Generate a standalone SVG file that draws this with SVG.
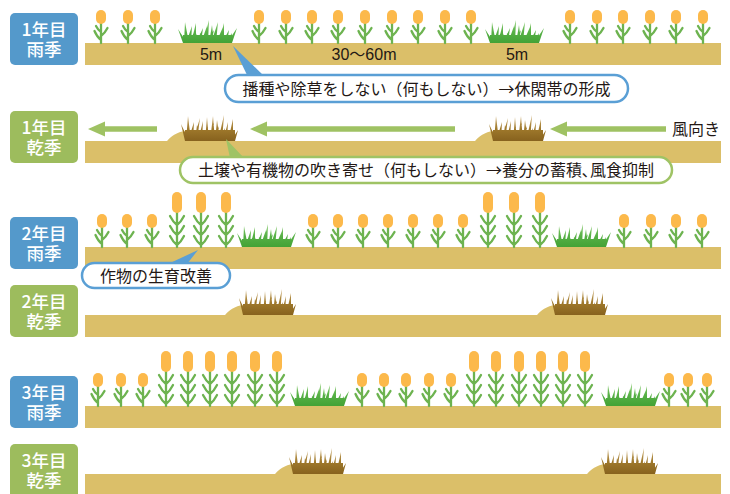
<svg xmlns="http://www.w3.org/2000/svg" xmlns:xlink="http://www.w3.org/1999/xlink" width="730" height="494" viewBox="0 0 730 494">
  <style>
    .ground { fill: #dbbf69; }
    .tag-wet { fill: #5499cb; }
    .tag-dry { fill: #9dbc5d; }
    .tag-text { font-family: "Noto Sans CJK JP", sans-serif; font-size: 17.5px; fill: #ffffff; text-anchor: middle; font-weight: 500; }
    .note { font-family: "Noto Sans CJK JP", sans-serif; font-size: 16px; fill: #231815; }
    .dist { font-family: "Liberation Sans", "Noto Sans CJK JP", sans-serif; font-size: 16px; fill: #231815; text-anchor: middle; }
    .pill-blue { fill: #ffffff; stroke: #5a9fd5; stroke-width: 2.5; }
    .pill-green { fill: #ffffff; stroke: #9fc365; stroke-width: 2.5; }
    .stem { stroke: #6db350; stroke-width: 2.3; fill: none; stroke-linecap: round; }
    .head { fill: #fcb94b; }
    .wind { stroke: #9fc263; stroke-width: 5.5; }
    .wind-head { fill: #9fc263; }
  </style>
  <defs>
    <linearGradient id="greenBlade" gradientUnits="userSpaceOnUse" x1="0" y1="0" x2="0" y2="-24">
      <stop offset="0" stop-color="#43a236"/>
      <stop offset="0.45" stop-color="#56b045"/>
      <stop offset="1" stop-color="#8fcf74"/>
    </linearGradient>
    <linearGradient id="dryBlade" gradientUnits="userSpaceOnUse" x1="0" y1="0" x2="0" y2="-26">
      <stop offset="0" stop-color="#87621e"/>
      <stop offset="0.45" stop-color="#9e782b"/>
      <stop offset="1" stop-color="#c9a868"/>
    </linearGradient>
    <!-- short crop, origin = stem foot on the ground -->
    <g id="cropS">
      <path class="stem" d="M0,0 V-20 M0,-3 Q-4,-6 -6.5,-12 M0,-7 Q4,-10 6.5,-15 M0,-11 Q-3,-13 -5,-17"/>
      <rect class="head" x="-5" y="-33" width="10" height="14" rx="5"/>
    </g>
    <!-- tall crop -->
    <g id="cropT">
      <path class="stem" d="M0,0 V-36 M0,-2 Q-4,-5 -7,-11 M0,-2 Q4,-5 7,-11 M0,-12 Q-4,-15 -7,-21 M0,-12 Q4,-15 7,-21 M0,-22 Q-4,-25 -7,-31 M0,-22 Q4,-25 7,-31"/>
      <rect class="head" x="-5" y="-55" width="10" height="21" rx="5"/>
    </g>
    <!-- green weed clump, origin = left foot -->
    <path id="weeds" fill="url(#greenBlade)" d="M0,0 L-5,-14 L4,0Z M1,0 L2,-21 L6,0Z M3,0 L9,-17 L8,0Z M6,0 L11,-11 L11,0Z M8,0 L13,-20 L13,0Z M11,0 L12,-13 L16,0Z M13,0 L20,-15 L18,0Z M16,0 L17,-10 L21,0Z M18,0 L24,-17 L23,0Z M20,0 L26,-23 L25,0Z M23,0 L31,-13 L28,0Z M26,0 L29,-18 L31,0Z M28,0 L35,-21 L33,0Z M31,0 L33,-12 L36,0Z M33,0 L40,-16 L38,0Z M36,0 L41,-20 L41,0Z M39,0 L46,-13 L44,0Z M42,0 L49,-10 L47,0Z M44,0 L54,-15 L49,0Z M0,0 L0,-8 L49,-8 L49,0Z"/>
    <!-- withered clump on a small drift of soil -->
    <g id="drift">
      <path class="ground" d="M-18,0 C-12,-7 -5,-10 3,-10 L45,-10 L45,0 Z"/>
      <path fill="url(#dryBlade)" d="M0,0 L-4,-17 L4,0Z M1,0 L3,-25 L6,0Z M3,0 L9,-19 L8,0Z M6,0 L7,-13 L10,0Z M8,0 L15,-23 L12,0Z M10,0 L12,-16 L15,0Z M13,0 L18,-20 L17,0Z M15,0 L16,-11 L20,0Z M18,0 L23,-14 L22,0Z M20,0 L22,-24 L24,0Z M22,0 L29,-18 L27,0Z M25,0 L28,-25 L30,0Z M28,0 L34,-15 L32,0Z M30,0 L32,-21 L35,0Z M33,0 L39,-26 L37,0Z M35,0 L40,-13 L40,0Z M38,0 L43,-19 L42,0Z M41,0 L47,-15 L45,0Z M43,0 L48,-22 L48,0Z M46,0 L53,-11 L50,0Z M0,0 L0,-11 L50,-11 L50,0Z"/>
    </g>
  </defs>

  <rect width="730" height="494" fill="#ffffff"/>

  <!-- Year 1, rainy season -->
  <g id="y1-wet">
    <rect class="tag-wet" x="10" y="13" width="68" height="52" rx="5"/>
    <text class="tag-text"><tspan x="44" y="35.5">1年目</tspan><tspan x="44" y="55.5">雨季</tspan></text>
    <rect class="ground" x="85" y="43" width="636" height="22"/>
    <use href="#cropS" x="101" y="43"/><use href="#cropS" x="128" y="43"/><use href="#cropS" x="155" y="43"/>
    <use href="#weeds" x="183" y="43"/>
    <use href="#cropS" x="259" y="43"/><use href="#cropS" x="286" y="43"/><use href="#cropS" x="312" y="43"/>
    <use href="#cropS" x="338" y="43"/><use href="#cropS" x="365" y="43"/><use href="#cropS" x="392" y="43"/>
    <use href="#cropS" x="418" y="43"/><use href="#cropS" x="445" y="43"/><use href="#cropS" x="471" y="43"/>
    <use href="#weeds" x="490" y="43"/>
    <use href="#cropS" x="570" y="43"/><use href="#cropS" x="597" y="43"/><use href="#cropS" x="623" y="43"/>
    <use href="#cropS" x="650" y="43"/><use href="#cropS" x="676" y="43"/><use href="#cropS" x="703" y="43"/>
    <text class="dist" x="211" y="60">5m</text>
    <text class="dist" x="364" y="60">30〜60m</text>
    <text class="dist" x="517" y="60">5m</text>
  </g>

  <!-- Year 1, dry season -->
  <g id="y1-dry">
    <rect class="tag-dry" x="10" y="111" width="68" height="52" rx="5"/>
    <text class="tag-text"><tspan x="44" y="133.5">1年目</tspan><tspan x="44" y="153.5">乾季</tspan></text>
    <rect class="ground" x="85" y="141" width="636" height="22"/>
    <use href="#drift" x="185" y="141"/>
    <use href="#drift" x="493" y="141"/>
    <text class="note" x="672" y="135">風向き</text>
  </g>

  <!-- Year 2, rainy season -->
  <g id="y2-wet">
    <rect class="tag-wet" x="10" y="217" width="68" height="52" rx="5"/>
    <text class="tag-text"><tspan x="44" y="239.5">2年目</tspan><tspan x="44" y="259.5">雨季</tspan></text>
    <rect class="ground" x="85" y="247" width="636" height="22"/>
    <use href="#cropS" x="102" y="247"/><use href="#cropS" x="127" y="247"/><use href="#cropS" x="152" y="247"/>
    <use href="#cropT" x="177" y="247"/><use href="#cropT" x="201" y="247"/><use href="#cropT" x="226" y="247"/>
    <use href="#weeds" x="242" y="247"/>
    <use href="#cropS" x="313" y="247"/><use href="#cropS" x="338" y="247"/><use href="#cropS" x="363" y="247"/>
    <use href="#cropS" x="388" y="247"/><use href="#cropS" x="413" y="247"/><use href="#cropS" x="438" y="247"/>
    <use href="#cropS" x="463" y="247"/>
    <use href="#cropT" x="488" y="247"/><use href="#cropT" x="514" y="247"/><use href="#cropT" x="540" y="247"/>
    <use href="#weeds" x="557" y="247"/>
    <use href="#cropS" x="624" y="247"/><use href="#cropS" x="651" y="247"/><use href="#cropS" x="676" y="247"/>
    <use href="#cropS" x="702" y="247"/>
  </g>

  <!-- Year 2, dry season -->
  <g id="y2-dry">
    <rect class="tag-dry" x="10" y="285" width="68" height="52" rx="5"/>
    <text class="tag-text"><tspan x="44" y="307.5">2年目</tspan><tspan x="44" y="327.5">乾季</tspan></text>
    <rect class="ground" x="85" y="315" width="636" height="22"/>
    <use href="#drift" x="243" y="315"/>
    <use href="#drift" x="555" y="315"/>
  </g>

  <!-- Year 3, rainy season -->
  <g id="y3-wet">
    <rect class="tag-wet" x="10" y="376" width="68" height="52" rx="5"/>
    <text class="tag-text"><tspan x="44" y="398.5">3年目</tspan><tspan x="44" y="418.5">雨季</tspan></text>
    <rect class="ground" x="85" y="406" width="636" height="22"/>
    <use href="#cropS" x="98" y="406"/><use href="#cropS" x="121" y="406"/><use href="#cropS" x="143" y="406"/>
    <use href="#cropT" x="166" y="406"/><use href="#cropT" x="188" y="406"/><use href="#cropT" x="210" y="406"/>
    <use href="#cropT" x="232" y="406"/><use href="#cropT" x="255" y="406"/><use href="#cropT" x="277" y="406"/>
    <use href="#weeds" x="295" y="406"/>
    <use href="#cropS" x="362" y="406"/><use href="#cropS" x="384" y="406"/><use href="#cropS" x="406" y="406"/>
    <use href="#cropS" x="429" y="406"/><use href="#cropS" x="451" y="406"/>
    <use href="#cropT" x="474" y="406"/><use href="#cropT" x="496" y="406"/><use href="#cropT" x="519" y="406"/>
    <use href="#cropT" x="541" y="406"/><use href="#cropT" x="563" y="406"/><use href="#cropT" x="585" y="406"/>
    <use href="#weeds" x="606" y="406"/>
    <use href="#cropS" x="669" y="406"/><use href="#cropS" x="688" y="406"/><use href="#cropS" x="707" y="406"/>
  </g>

  <!-- Year 3, dry season -->
  <g id="y3-dry">
    <rect class="tag-dry" x="10" y="444" width="68" height="56" rx="5"/>
    <text class="tag-text"><tspan x="44" y="466.5">3年目</tspan><tspan x="44" y="486.5">乾季</tspan></text>
    <rect class="ground" x="85" y="474" width="636" height="22"/>
    <use href="#drift" x="293" y="474"/>
    <use href="#drift" x="605" y="474"/>
  </g>

  <!-- wind arrows and callout pointers -->
  <g id="connectors">
    <line class="wind" x1="104" y1="129" x2="157" y2="129"/>
    <polygon class="wind-head" points="88,129 105,121.5 105,136.5"/>
    <line class="wind" x1="266" y1="129" x2="455" y2="129"/>
    <polygon class="wind-head" points="250,129 267,121.5 267,136.5"/>
    <line class="wind" x1="566" y1="129" x2="666" y2="129"/>
    <polygon class="wind-head" points="550,129 567,121.5 567,136.5"/>

    <polygon fill="#5a9fd5" points="233,46 265,77 248,77"/>
    <polygon fill="#9fc365" points="226,139 244,158 230,158"/>
    <polygon fill="#5a9fd5" points="198,250 187,264 168,264"/>
  </g>

  <g id="note-fallow">
    <rect class="pill-blue" x="225" y="75" width="403" height="27" rx="13.5"/>
    <text class="note" x="426.5" y="94.5" text-anchor="middle">播種や除草をしない（何もしない）→休閑帯の形成</text>
  </g>
  <g id="note-drift">
    <rect class="pill-green" x="180" y="157" width="492" height="26" rx="13"/>
    <text class="note" x="426" y="176" text-anchor="middle">土壌や有機物の吹き寄せ（何もしない）→養分の蓄積､風食抑制</text>
  </g>
  <g id="note-growth">
    <rect class="pill-blue" x="82" y="263" width="148" height="25" rx="12.5"/>
    <text class="note" x="156" y="281.5" text-anchor="middle">作物の生育改善</text>
  </g>
</svg>
